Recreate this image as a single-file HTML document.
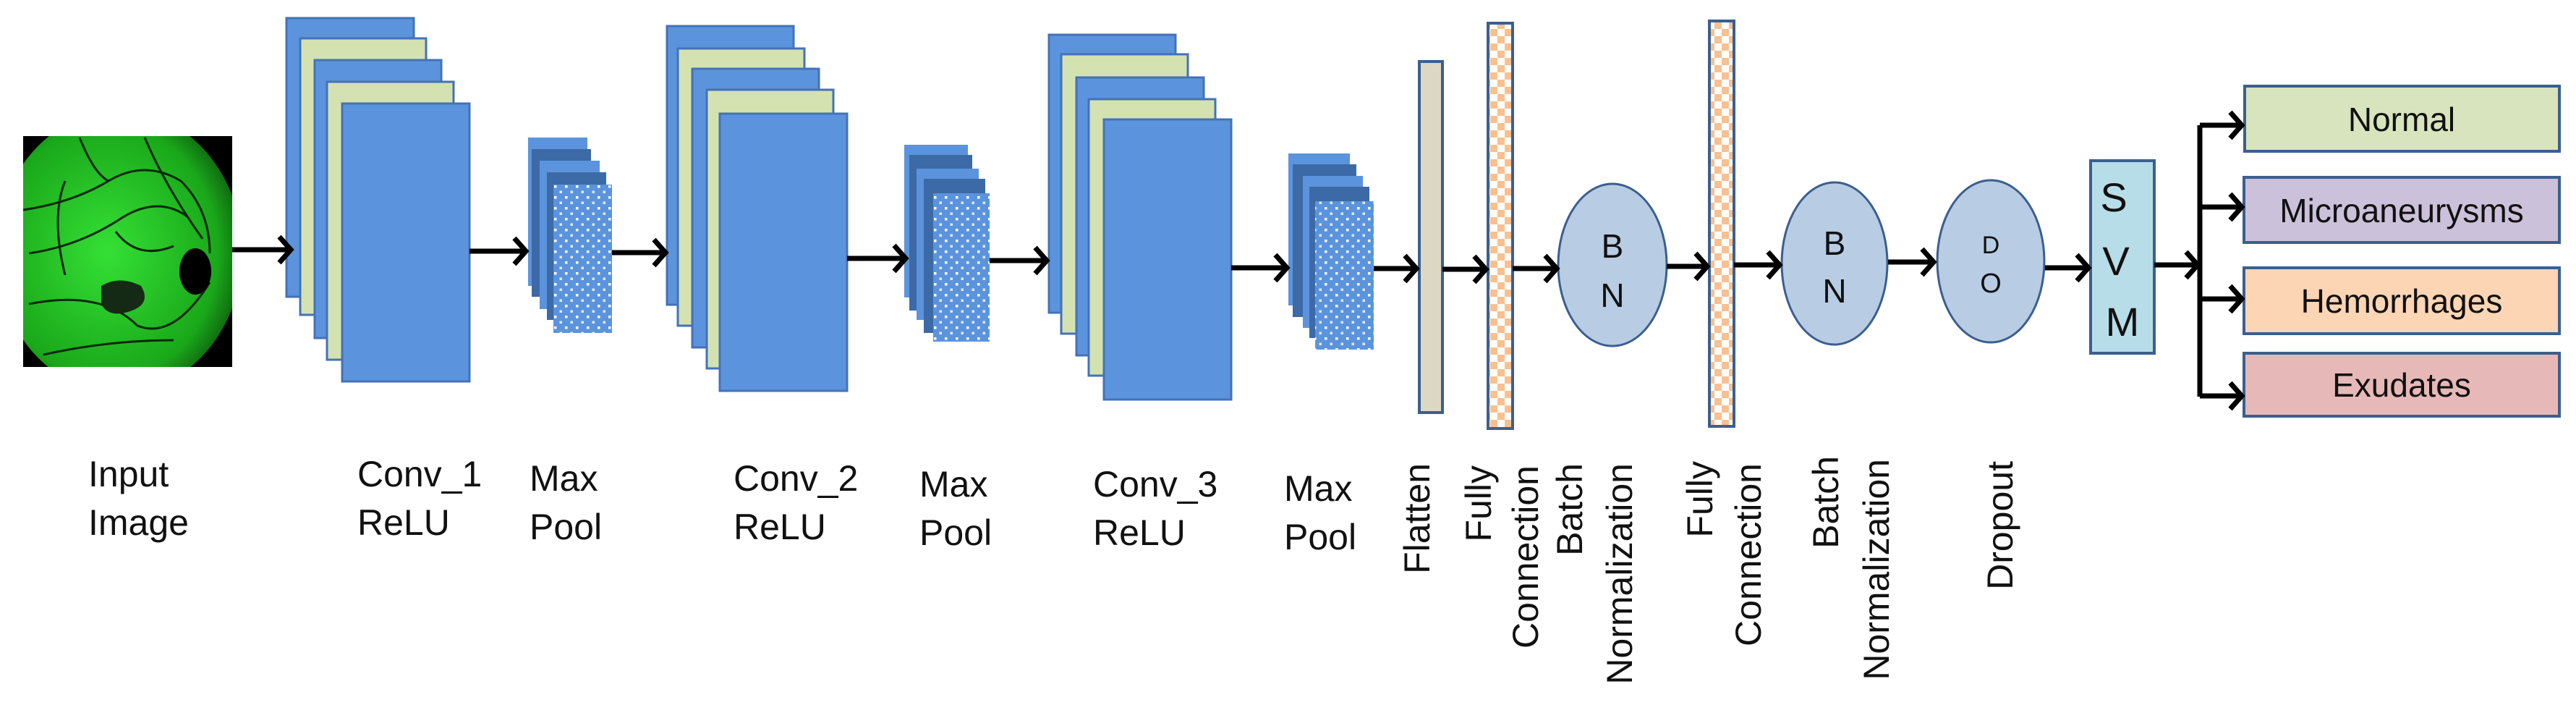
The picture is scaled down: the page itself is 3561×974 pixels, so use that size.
<!DOCTYPE html>
<html><head><meta charset="utf-8"><style>
html,body{margin:0;padding:0;background:#fff;}
svg{display:block;}
text{font-family:"Liberation Sans",sans-serif;fill:#111;}
</style></head><body>
<svg width="3561" height="974" viewBox="0 0 3561 974" xmlns="http://www.w3.org/2000/svg">
<defs>
<pattern id="dots" width="15" height="15" patternUnits="userSpaceOnUse">
<rect width="15" height="15" fill="#5b94dc"/>
<rect x="1" y="1" width="3.5" height="3.5" fill="#fff"/>
<rect x="8.5" y="8.5" width="3.5" height="3.5" fill="#dfe9f8"/>
</pattern>
<pattern id="chk" width="20" height="20" patternUnits="userSpaceOnUse">
<rect width="20" height="20" fill="#fff"/>
<rect width="10" height="10" fill="#fac090"/>
<rect x="10" y="10" width="10" height="10" fill="#fac090"/>
</pattern>
<radialGradient id="ret" cx="0.45" cy="0.5" r="0.6">
<stop offset="0" stop-color="#35e035"/>
<stop offset="0.75" stop-color="#1aa81a"/>
<stop offset="1" stop-color="#0a4a0a"/>
</radialGradient>
<clipPath id="rc"><rect x="32" y="188" width="289" height="319"/></clipPath>
</defs>

<!-- Input image -->
<rect x="32" y="188" width="289" height="319" fill="#000"/>
<g clip-path="url(#rc)">
<ellipse cx="165" cy="348" rx="170" ry="195" fill="url(#ret)"/>
<g stroke="#062806" stroke-width="3" fill="none">
<path d="M32 290 Q100 280 150 250 Q200 220 250 250 Q290 290 290 350"/>
<path d="M40 350 Q110 340 170 300 Q220 270 260 300"/>
<path d="M40 420 Q140 400 190 450 Q240 470 290 390"/>
<path d="M60 490 Q150 470 240 470"/>
<path d="M110 190 Q130 240 150 250"/>
<path d="M200 190 Q230 260 280 330"/>
<path d="M160 320 Q190 360 240 340"/>
<path d="M90 250 Q70 300 90 380"/>
</g>
<ellipse cx="270" cy="375" rx="22" ry="32" fill="#000"/>
<path d="M140 395 Q165 380 195 395 Q210 420 180 430 Q150 440 140 420 Z" fill="#142a14"/>
</g>

<!-- Conv_1 -->
<g stroke="#4472b8" stroke-width="3">
<rect x="396" y="25" width="176" height="385" fill="#5b94dc"/>
<rect x="415" y="53" width="174" height="382" fill="#d3e2b0"/>
<rect x="435" y="83" width="175" height="384" fill="#5b94dc"/>
<rect x="452" y="113" width="175" height="384" fill="#d3e2b0"/>
<rect x="473" y="143" width="176" height="384" fill="#5b94dc"/>
</g>
<!-- MaxPool1 -->
<rect x="730" y="190" width="82" height="205" fill="#5b94dc"/>
<rect x="735" y="206" width="82" height="204" fill="#3c6aa6"/>
<rect x="746" y="222" width="83" height="205" fill="#5b94dc"/>
<rect x="756" y="238" width="82" height="204" fill="#3c6aa6"/>
<rect x="765" y="255" width="81" height="205" fill="url(#dots)"/>
<!-- Conv_2 -->
<g stroke="#4472b8" stroke-width="3">
<rect x="922" y="36" width="175" height="385" fill="#5b94dc"/>
<rect x="937" y="67" width="175" height="383" fill="#d3e2b0"/>
<rect x="957" y="95" width="175" height="385" fill="#5b94dc"/>
<rect x="977" y="124" width="175" height="385" fill="#d3e2b0"/>
<rect x="995" y="157" width="176" height="383" fill="#5b94dc"/>
</g>
<!-- MaxPool2 -->
<rect x="1250" y="200" width="88" height="211" fill="#5b94dc"/>
<rect x="1257" y="214" width="87" height="215" fill="#3c6aa6"/>
<rect x="1267" y="233" width="86" height="209" fill="#5b94dc"/>
<rect x="1277" y="247" width="85" height="213" fill="#3c6aa6"/>
<rect x="1290" y="267" width="78" height="205" fill="url(#dots)"/>
<!-- Conv_3 -->
<g stroke="#4472b8" stroke-width="3">
<rect x="1450" y="48" width="175" height="384" fill="#5b94dc"/>
<rect x="1467" y="75" width="175" height="386" fill="#d3e2b0"/>
<rect x="1488" y="107" width="176" height="384" fill="#5b94dc"/>
<rect x="1505" y="137" width="175" height="382" fill="#d3e2b0"/>
<rect x="1526" y="165" width="176" height="387" fill="#5b94dc"/>
</g>
<!-- MaxPool3 -->
<rect x="1781" y="212" width="85" height="210" fill="#5b94dc"/>
<rect x="1787" y="227" width="88" height="211" fill="#3c6aa6"/>
<rect x="1801" y="243" width="83" height="210" fill="#5b94dc"/>
<rect x="1810" y="258" width="83" height="209" fill="#3c6aa6"/>
<rect x="1818" y="278" width="81" height="205" fill="url(#dots)"/>

<!-- Flatten, FC -->
<rect x="1962" y="85" width="32" height="485" fill="#ddd8c4" stroke="#3b5f8f" stroke-width="4"/>
<rect x="2057" y="32" width="34" height="560" fill="url(#chk)" stroke="#3b5f8f" stroke-width="4"/>
<rect x="2363" y="29" width="34" height="560" fill="url(#chk)" stroke="#3b5f8f" stroke-width="4"/>

<!-- Ellipses -->
<g fill="#b8cce4" stroke="#3b5f8f" stroke-width="3">
<ellipse cx="2229" cy="366" rx="75" ry="112"/>
<ellipse cx="2536" cy="364" rx="73" ry="112"/>
<ellipse cx="2752" cy="361" rx="74" ry="112"/>
</g>
<text x="2229" y="356" font-size="46" text-anchor="middle">B</text>
<text x="2229" y="424" font-size="46" text-anchor="middle">N</text>
<text x="2536" y="352" font-size="46" text-anchor="middle">B</text>
<text x="2536" y="418" font-size="46" text-anchor="middle">N</text>
<text x="2752" y="350" font-size="34" text-anchor="middle">D</text>
<text x="2752" y="404" font-size="38" text-anchor="middle">O</text>

<!-- SVM -->
<rect x="2890" y="222" width="88" height="266" fill="#b7dde8" stroke="#3b5f8f" stroke-width="4"/>
<text x="2922" y="292" font-size="56" text-anchor="middle">S</text>
<text x="2925" y="380" font-size="56" text-anchor="middle">V</text>
<text x="2934" y="464" font-size="56" text-anchor="middle">M</text>

<!-- Output boxes -->
<g stroke="#3b5f8f" stroke-width="4">
<rect x="3103" y="119" width="435" height="90" fill="#d7e4bd"/>
<rect x="3102" y="245" width="436" height="90" fill="#ccc1da"/>
<rect x="3102" y="370" width="436" height="91" fill="#fcd5b5"/>
<rect x="3102" y="488" width="436" height="87" fill="#e6b9b8"/>
</g>
<g font-size="46" text-anchor="middle">
<text x="3320" y="181">Normal</text>
<text x="3320" y="307">Microaneurysms</text>
<text x="3320" y="432">Hemorrhages</text>
<text x="3320" y="548">Exudates</text>
</g>

<!-- Arrows -->
<g stroke="#000" stroke-width="7" fill="none" stroke-linejoin="miter">
<path d="M321 345 H402 M386 327 L402 345 L386 363"/>
<path d="M649 347 H727 M711 329 L727 347 L711 365"/>
<path d="M846 349 H920 M904 331 L920 349 L904 367"/>
<path d="M1171 357 H1252 M1236 339 L1252 357 L1236 375"/>
<path d="M1368 360 H1447 M1431 342 L1447 360 L1431 378"/>
<path d="M1702 370 H1779 M1763 352 L1779 370 L1763 388"/>
<path d="M1899 371 H1958 M1942 353 L1958 371 L1942 389"/>
<path d="M1994 372 H2054 M2038 354 L2054 372 L2038 390"/>
<path d="M2091 371 H2152 M2136 353 L2152 371 L2136 389"/>
<path d="M2304 368 H2360 M2344 350 L2360 368 L2344 386"/>
<path d="M2397 366 H2460 M2444 348 L2460 366 L2444 384"/>
<path d="M2610 362 H2673 M2657 344 L2673 362 L2657 380"/>
<path d="M2827 370 H2887 M2871 352 L2887 370 L2871 388"/>
<path d="M2978 366 H3038 M3022 348 L3038 366 L3022 384"/>
<path d="M3041 173 V548"/>
<path d="M3041 173 H3099 M3083 155 L3099 173 L3083 191"/>
<path d="M3041 286 H3099 M3083 268 L3099 286 L3083 304"/>
<path d="M3041 413 H3099 M3083 395 L3099 413 L3083 431"/>
<path d="M3041 547 H3099 M3083 529 L3099 547 L3083 565"/>
</g>

<!-- Horizontal labels -->
<g font-size="50">
<text x="122" y="672">Input</text>
<text x="122" y="739">Image</text>
<text x="494" y="672">Conv_1</text>
<text x="494" y="739">ReLU</text>
<text x="732" y="678">Max</text>
<text x="732" y="745">Pool</text>
<text x="1014" y="678">Conv_2</text>
<text x="1014" y="745">ReLU</text>
<text x="1271" y="686">Max</text>
<text x="1271" y="753">Pool</text>
<text x="1511" y="686">Conv_3</text>
<text x="1511" y="753">ReLU</text>
<text x="1775" y="692">Max</text>
<text x="1775" y="759">Pool</text>
</g>
<!-- Rotated labels -->
<g font-size="50" text-anchor="end">
<text transform="translate(1976,640) rotate(-90)">Flatten</text>
<text transform="translate(2061,643) rotate(-90)">Fully</text>
<text transform="translate(2126,643) rotate(-90)">Connection</text>
<text transform="translate(2187,640) rotate(-90)">Batch</text>
<text transform="translate(2256,640) rotate(-90)">Normalization</text>
<text transform="translate(2367,637) rotate(-90)">Fully</text>
<text transform="translate(2434,640) rotate(-90)">Connection</text>
<text transform="translate(2541,630) rotate(-90)">Batch</text>
<text transform="translate(2611,634) rotate(-90)">Normalization</text>
<text transform="translate(2782,637) rotate(-90)">Dropout</text>
</g>
</svg>
</body></html>
